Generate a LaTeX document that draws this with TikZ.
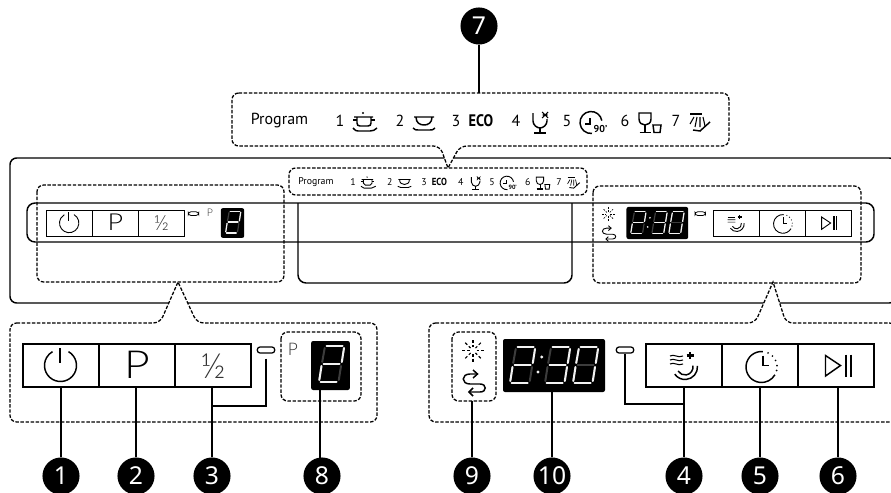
\documentclass[tikz,border=0pt]{standalone}
\usepackage{fontspec}
\setmainfont{PT Sans}
\newfontfamily\numfont{Noto Sans}
\newfontfamily\thinfont{Lato Light}
\usetikzlibrary{positioning,calc}
\definecolor{SegDim}{HTML}{3C3C3C}
\definecolor{SegLit}{HTML}{F2F2F2}
\definecolor{IconGray}{HTML}{333333}
\def\panelscale{1}
\def\digittwo{7.5/0/23.5/0, 25/2/22.8/16, 4.5/18/20.5/18, 0.3/34/2.5/20, 1.5/36/17.5/36}
\def\digitthree{7.5/0/23.5/0, 25/2/22.8/16, 4.5/18/20.5/18, 22/20/19.8/34, 1.5/36/17.5/36}
\def\digitzero{7.5/0/23.5/0, 25/2/22.8/16, 22/20/19.8/34, 1.5/36/17.5/36, 0.3/34/2.5/20, 3.2/16/5.7/2}
\tikzset{
  zone/.style={draw=black, line width=0.95pt, dash pattern=on 2.6pt off 1.2pt, rounded corners=5pt},
  panelline/.style={draw=black, line width=1.1pt},
  callline/.style={draw=black, line width=1.2pt},
  thinline/.style={draw=black, line width=0.8pt},
  numdot/.style={circle, fill=black, text=white, inner sep=0pt, minimum size=27.8pt,
    font=\numfont\fontsize{18.5pt}{18.5pt}\selectfont},
  panelbtn/.style={rectangle, draw=black, line width=1.05pt*\panelscale, minimum width=57pt,
    minimum height=32.25pt, inner sep=0pt, transform shape},
  ledmark/.style={rectangle, rounded corners=2pt, draw=black, line width=0.95pt*\panelscale, fill=white,
    minimum width=13pt, minimum height=4.5pt, inner sep=0pt, transform shape},
  panelshow/.style={rectangle, rounded corners=1.5pt, fill=black, inner sep=0pt, transform shape},
  icon/.style={draw=black, line width=1.1pt*\panelscale},
  tinyicon/.style={draw=black, line width=0.8pt*\panelscale},
  segdim/.style={draw=SegDim, line width=1.5pt*\panelscale, line cap=round},
  seglit/.style={draw=SegLit, line width=1.5pt*\panelscale, line cap=round},
  striptext/.style={inner sep=0pt, transform shape, font=\fontsize{12pt}{12pt}\selectfont},
  pics/segdigit/.style={code={
    \foreach \xa/\ya/\xb/\yb in {7.5/0/23.5/0, 25/2/22.8/16, 22/20/19.8/34, 1.5/36/17.5/36,
                                 0.3/34/2.5/20, 3.2/16/5.7/2, 4.5/18/20.5/18}
      \draw[segdim] (\xa,\ya) -- (\xb,\yb);
    \foreach \xa/\ya/\xb/\yb in #1
      \draw[seglit] (\xa,\ya) -- (\xb,\yb);
  }},
  pics/leftpanel/.style={code={
    \def\panelscale{#1}
    \node[panelbtn] (-power) at (38,21.5) {};
    \node[panelbtn] (-prog) at (114,21.5) {};
    \node[panelbtn] (-half) at (190,21.5) {};
    \draw[icon] (37.5,21.5) ++(-60:16) arc[start angle=-60, end angle=240, radius=16];
    \draw[icon] (37,4) -- (37,19);
    \node[inner sep=0pt, transform shape, xscale=1.15, font=\thinfont\fontsize{29pt}{29pt}\selectfont] (-ptext) at (114,21) {P};
    \node[inner sep=0pt, transform shape, text=IconGray, font=\thinfont\fontsize{26pt}{26pt}\selectfont] (-halftext) at (190,22) {½};
    \node[ledmark] (-led) at (243,6) {};
    \node[inner sep=0pt, transform shape, text=IconGray, font=\thinfont\fontsize{13pt}{13pt}\selectfont] (-ptag) at (270,5) {P};
    \node[panelshow, minimum width=29pt, minimum height=36.75pt] (-display) at (307.5,21.5) {};
    \pic[scale=#1] at (296,2) {segdigit={\digittwo}};
  }},
  pics/rightpanel/.style={code={
    \def\panelscale{#1}
    \node[panelbtn] (-rinse) at (38,21.5) {};
    \node[panelbtn] (-timer) at (114,21.5) {};
    \node[panelbtn] (-start) at (190,21.5) {};
    % rinse
    \begin{scope}[shift={(38,21.5)}]
      \foreach \yy in {-9.5,-5.5,-1.5}
        \draw[tinyicon] (-14,\yy) .. controls (-10,\yy-2.5) and (-6,\yy+2.5) .. (-1,\yy);
      \draw[draw=black, line width=1.6pt*\panelscale] (2.5,-10) -- (9.5,-10) (6,-13.5) -- (6,-6.5);
      \draw[icon] (1,1.5) ++(-5:12.5) arc[start angle=-5, end angle=145, radius=12.5];
      \draw[icon] (1,1.5) ++(-10:8) arc[start angle=-10, end angle=150, radius=8];
    \end{scope}
    % timer
    \begin{scope}[shift={(115,21.5)}]
      \draw[icon] (0.5,1.5) ++(275:15.5) arc[start angle=275, end angle=30, radius=15.5];
      \foreach \aa in {295,315,335,355,13}
        \fill ($(0.5,1.5)+(\aa:15.5)$) circle[radius=0.95];
      \draw[icon] (2,-10) -- (2,0) -- (8,0);
    \end{scope}
    % start
    \begin{scope}[shift={(190.5,21.5)}]
      \draw[icon] (-11,-10) -- (-11,10.5) -- (4,0) -- cycle;
      \draw[draw=black, line width=1.5pt*\panelscale] (9.5,-11) -- (9.5,11) (14,-11) -- (14,11);
    \end{scope}
    \node[ledmark] (-led) at (-21,6) {};
    \node[panelshow, minimum width=76.5pt, minimum height=39.75pt] (-display) at (-92,21.5) {};
    \pic[scale=#1] at (-136,3) {segdigit={\digittwo}};
    \pic[scale=#1] at (-101,3) {segdigit={\digitthree}};
    \pic[scale=#1] at (-73,3) {segdigit={\digitzero}};
    \fill[SegLit] (-104.3,13) circle[radius=1.6] (-108,28) circle[radius=1.6];
    % sun
    \begin{scope}[shift={(-173,6.5)}]
      \foreach \aa in {0,45,...,315} {
        \draw[tinyicon] (\aa:3.5) -- (\aa:6);
        \draw[tinyicon] (\aa:8) -- (\aa:11);
      }
    \end{scope}
    % loop
    \begin{scope}[shift={(-173,39)}]
      \draw[icon] (4.5,-9) -- (-3,-9) .. controls (-12,-9) and (-12,1) .. (-3,1) -- (7,1)
        .. controls (14,1) and (14,9) .. (7,9) -- (-4,9);
      \draw[icon] (0,-13) -- (4.5,-9) -- (0,-5);
      \draw[icon] (0,5) -- (-4,9) -- (0,13);
    \end{scope}
  }},
  pics/programstrip/.style={code={
    \def\panelscale{#1}
    \node[striptext] (-title) at (-60.5,0) {Program};
    \node[striptext] (-one) at (0,0) {1};
    \node[striptext] (-two) at (60,0) {2};
    \node[striptext] (-three) at (116,0) {3};
    \node[striptext, xscale=0.86, font=\bfseries\fontsize{12.5pt}{12.5pt}\selectfont] (-eco) at (141,0) {ECO};
    \node[striptext] (-four) at (176,0) {4};
    \node[striptext] (-five) at (227,0) {5};
    \node[striptext] (-six) at (285,0) {6};
    \node[striptext] (-seven) at (336,0) {7};
    \begin{scope}[shift={(25,0)}]
      \fill (-2,-8) circle[radius=1.2];
      \draw[icon] (-11,-4) -- (8,-4) (-8,-4) -- (-8,2) .. controls (-8,4) and (-7,5) .. (-5,5) -- (3,5)
        .. controls (5,5) and (6,4) .. (6,2) -- (6,-4);
      \draw[tinyicon] (-12,-1) -- (-8,-1) (6,-1) -- (10,-1);
      \draw[icon] (-12,7) .. controls (-10,9.5) and (-9,10) .. (-7,10) -- (5,10) .. controls (8,10) and (10,9) .. (12,7);
    \end{scope}
    \begin{scope}[shift={(84,0)}]
      \draw[icon] (-10,-4) -- (10,-4) (-8,-4) .. controls (-8,2) and (-4,4) .. (0,4) .. controls (4,4) and (8,2) .. (8,-4);
      \draw[icon] (-11,7) .. controls (-9,9) and (-8,9) .. (-6,9) -- (6,9) .. controls (8,9) and (9,9) .. (11,7);
    \end{scope}
    \begin{scope}[shift={(200,0)}]
      \draw[icon] (-7,-8) -- (-7,0) .. controls (-7,4) and (-3,7) .. (0,7) .. controls (3,7) and (7,4) .. (7,0) -- (7,-2);
      \draw[icon] (0,7) -- (0,12);
      \draw[draw=black, line width=1.4pt*\panelscale] (-6,12) -- (6,12);
      \draw[tinyicon] (2,-9) -- (8,-3) (8,-9) -- (2,-3) (2.5,-6) -- (7.5,-6);
    \end{scope}
    \begin{scope}[shift={(252,0)}]
      \draw[icon] (-1,1.5) ++(85:11) arc[start angle=85, end angle=350, radius=11];
      \draw[icon] (-2,-3) -- (-2,3) -- (-7,3);
      \node[inner sep=0pt, transform shape, font=\bfseries\fontsize{7.5pt}{7.5pt}\selectfont] (-ninety) at (8.5,8) {90'};
    \end{scope}
    \begin{scope}[shift={(310,0)}]
      \draw[icon] (-11,-8) -- (1,-8) -- (1,-2) .. controls (1,2) and (-2,4) .. (-5,4) .. controls (-8,4) and (-11,2) .. (-11,-2) -- cycle;
      \draw[icon] (-5,4) -- (-5,11.5);
      \draw[draw=black, line width=1.4pt*\panelscale] (-10.5,11.5) -- (0.5,11.5);
      \draw[icon] (3,4) -- (11,4) -- (10,11.5) -- (4,11.5) -- cycle;
    \end{scope}
    \begin{scope}[shift={(360,0)}]
      \draw[draw=black, line width=1.3pt*\panelscale] (-10,-7) -- (2,-7);
      \draw[tinyicon] (-6,-4) -- (-10,3) (-3,-4) -- (-5,6) (0,-4) -- (0,6) (3,-4) -- (5,5);
      \draw[icon] (-7,9) -- (0,10) -- (10,1);
    \end{scope}
  }},
}

\begin{document}
\begin{tikzpicture}[x=0.75pt, y=-0.75pt]
\useasboundingbox (0,0) rectangle (891,492);

% appliance front
\draw[panelline, rounded corners=5pt] (10,158) rectangle (896,303);
\draw[panelline, rounded corners=6pt] (27,203) rectangle (874,242);
\draw[panelline, rounded corners=6pt] (298,203) -- (298,283) -- (572,283) -- (572,203);

% small controls
\pic (smallleft) [scale=0.605] at (46.5,210) {leftpanel={0.605}};
\pic (smallright) [scale=0.605] at (713,210) {rightpanel={0.605}};
\pic (smallstrip) [scale=0.613] at (353,182) {programstrip={0.613}};

\draw[zone] (37,185) rectangle (284,282);
\draw[zone] (593,186) rectangle (861,283);
\draw[zone] (289,168) rectangle (587,195);

% callouts
\draw[zone, fill=white] (232,93) -- (729,93) -- (729,146) -- (460,146) [sharp corners] -- (448,168) [rounded corners=5pt] -- (440,146) -- (232,146) -- cycle;
\draw[zone, fill=white] (10,323) -- (160,323) [sharp corners] -- (178,282) [rounded corners=5pt] -- (197,323) -- (377,323) -- (377,422) -- (10,422) -- cycle;
\draw[zone, fill=white] (429,323) -- (755,323) [sharp corners] -- (773,282) [rounded corners=5pt] -- (786,323) -- (896,323) -- (896,422) -- (429,422) -- cycle;

\pic (bigstrip) at (340,121) {programstrip={1}};
\pic (bigleft) at (23,344) {leftpanel={1}};
\pic (bigright) at (646,344) {rightpanel={1}};

\draw[zone] (281,332) rectangle (361,401);
\draw[zone] (452,332) rectangle (496,401);
\coordinate (lineeight) at (320,460);
\coordinate (zonenine) at (472,401);

% numbers
\node[numdot] (numone) at (61,476) {1};
\node[numdot] (numtwo) at (136,476) {2};
\node[numdot] (numthree) at (212,476) {3};
\node[numdot] (numeight) at (322,476) {8};
\node[numdot] (numnine) at (472,476) {9};
\node[numdot] (numten) at (552,476) {10};
\node[numdot] (numfour) at (684,476) {4};
\node[numdot] (numfive) at (760,476) {5};
\node[numdot] (numsix) at (838,476) {6};
\node[numdot] (numseven) at (479,26) {7};

\draw[callline] (numone) -- (numone |- bigleft-power.south);
\draw[callline] (numtwo) -- (numtwo |- bigleft-prog.south);
\draw[callline] (numthree) -- (numthree |- bigleft-half.south);
\draw[callline] (lineeight) -- (lineeight |- bigleft-display.south);
\draw[callline] (numnine) -- (numnine |- zonenine);
\draw[callline] (numten) -- (numten |- bigright-display.south);
\draw[callline] (numfour) -- (numfour |- bigright-rinse.south);
\draw[callline] (numfive) -- (numfive |- bigright-timer.south);
\draw[callline] (numsix) -- (numsix |- bigright-start.south);
\draw[thinline] (numseven) -- (479,93);
\draw[thinline] (bigleft-led.south) ++(0,5) |- (numthree |- 0,406);
\draw[thinline] (bigright-led.south) |- (numfour |- 0,404);

\end{tikzpicture}
\end{document}
